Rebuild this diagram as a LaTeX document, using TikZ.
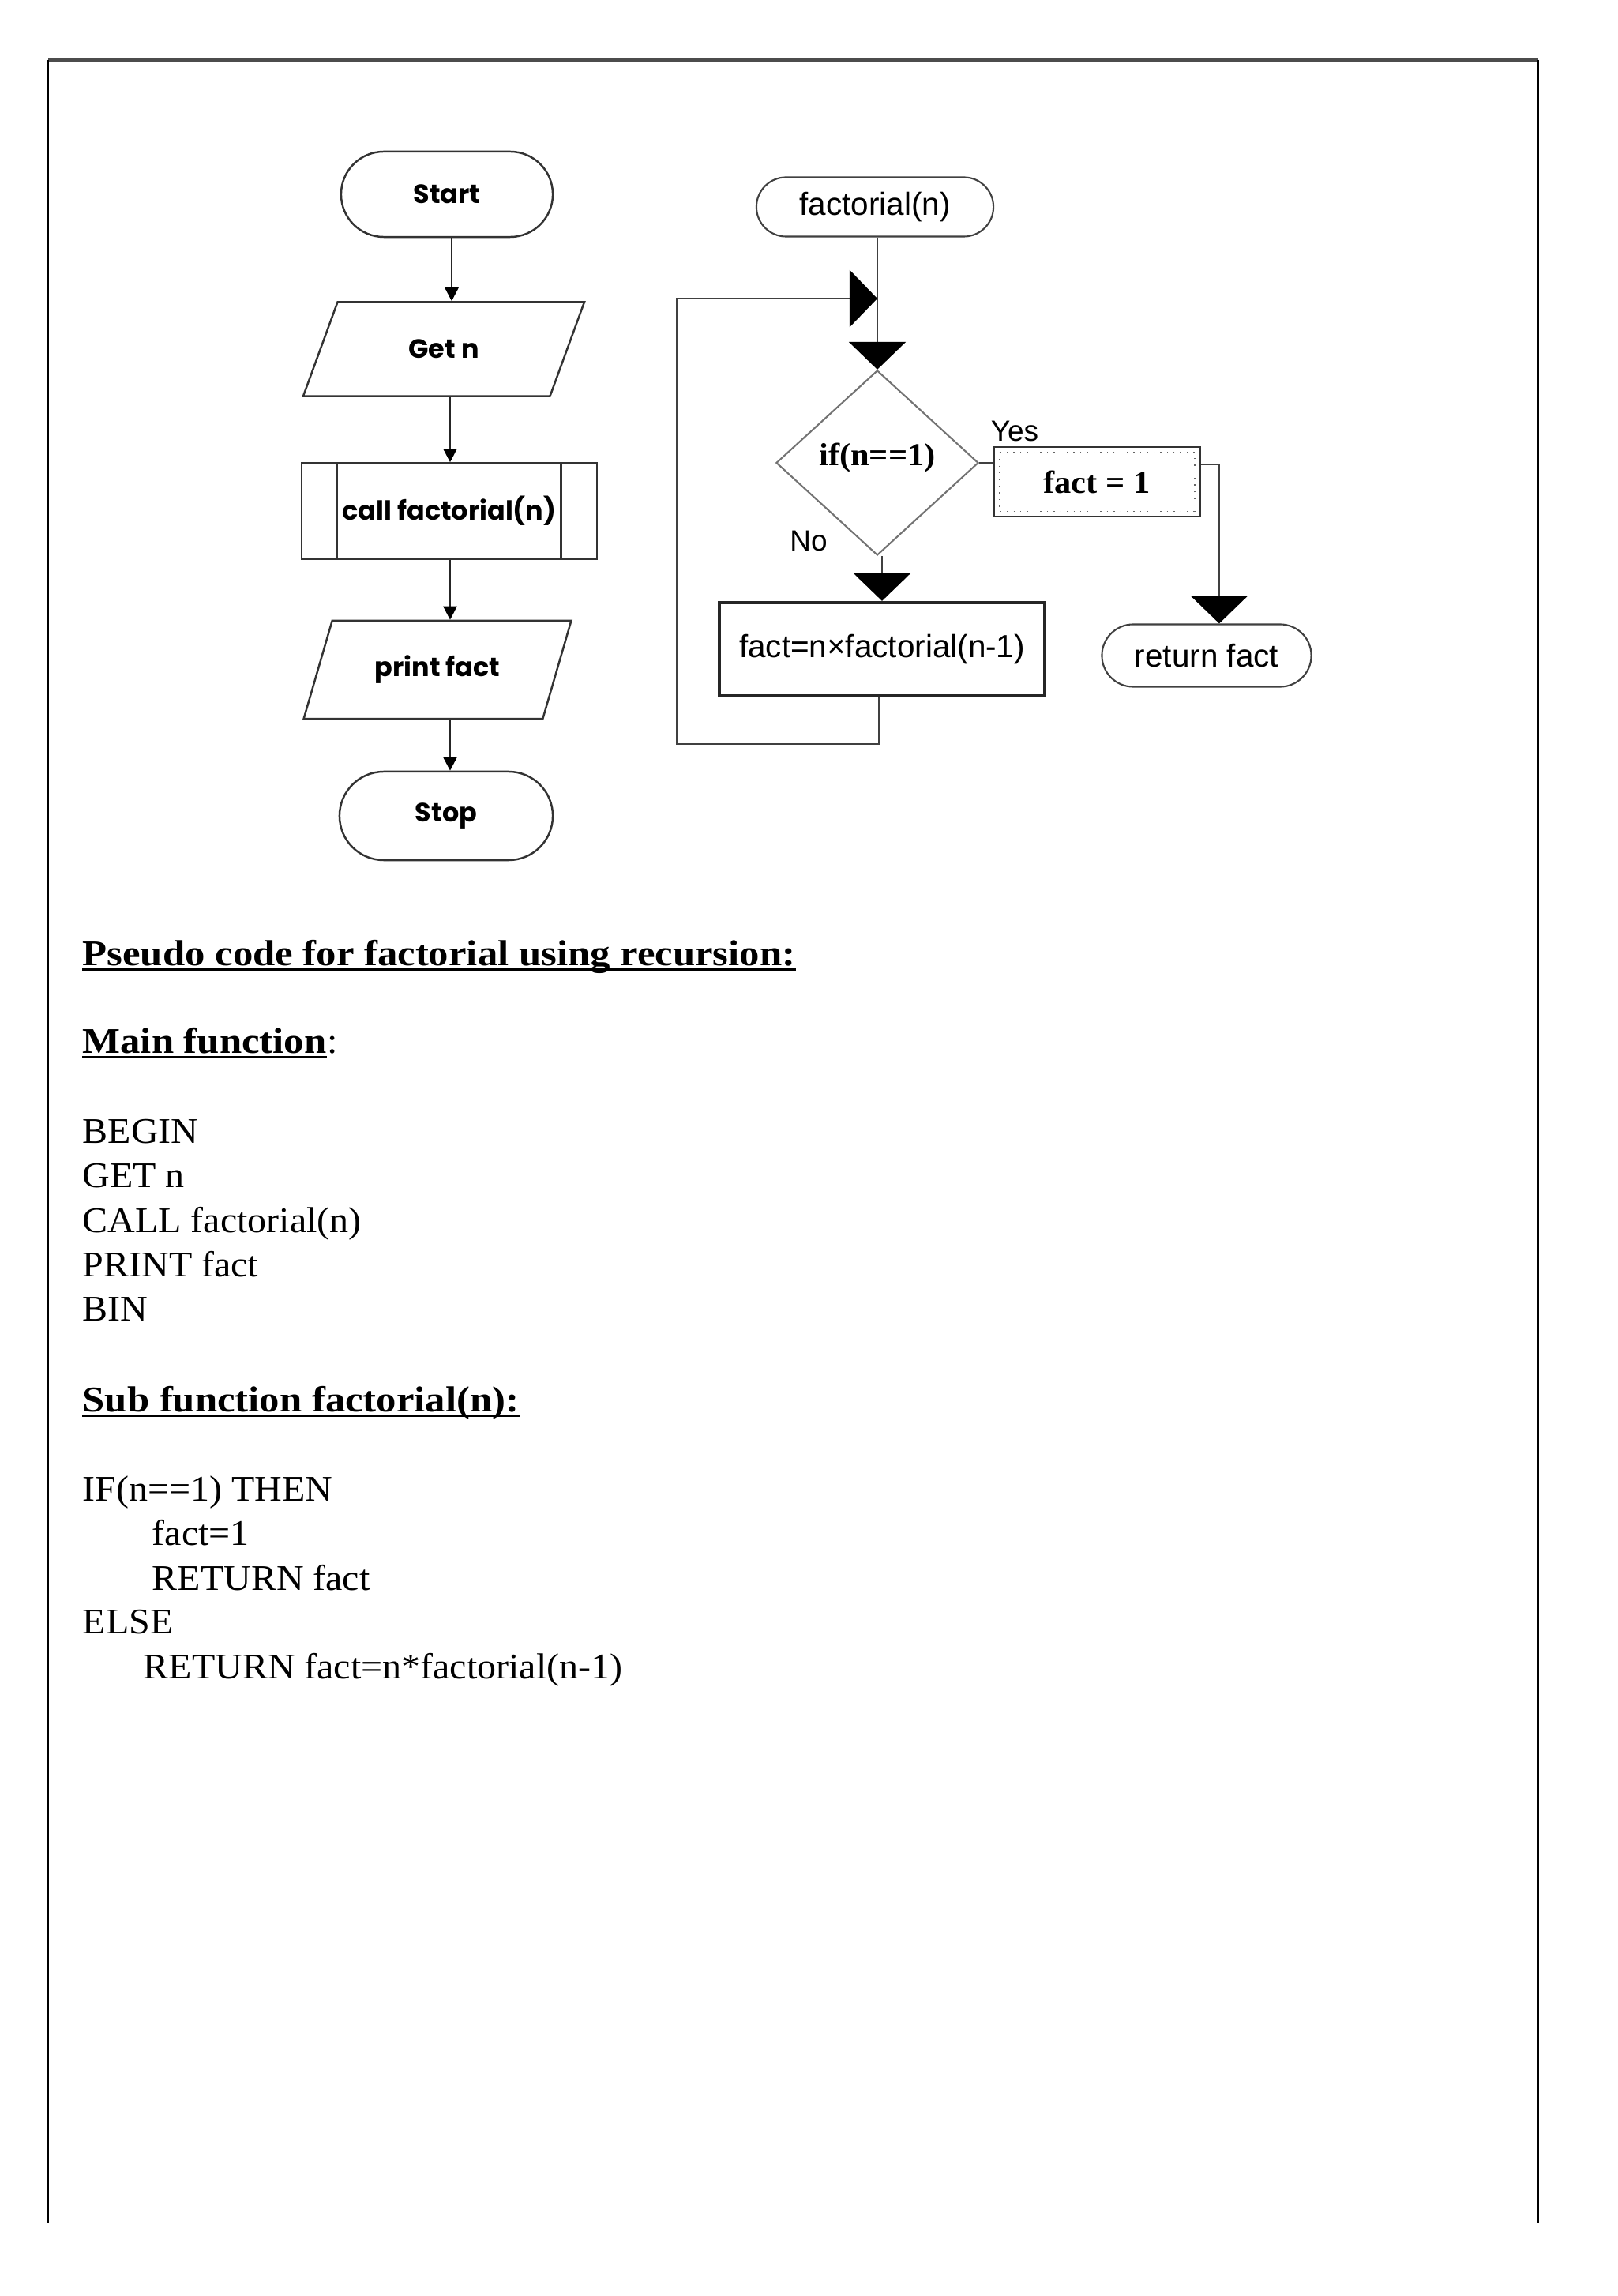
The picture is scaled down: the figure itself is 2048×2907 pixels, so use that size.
\documentclass[tikz,border=0pt]{standalone}
\usepackage{fontspec}
\setmainfont{Liberation Serif}[FakeStretch=1.05]
\newfontfamily\headfont{Liberation Serif}[FakeStretch=1.11]
\newfontfamily\arialfont{Liberation Sans}
\newfontfamily\comicfont{Poppins}
\usetikzlibrary{arrows.meta,shapes.geometric,shapes.misc,calc}

\tikzset{
  every node/.style={inner sep=0pt},
  lterm/.style={rounded rectangle, draw=black!80, line width=0.7pt, minimum width=2.68cm, minimum height=1.08cm, font=\comicfont\bfseries\fontsize{9.5}{11}\selectfont},
  lio/.style={trapezium, trapezium left angle=59, trapezium right angle=121, trapezium stretches=true, draw=black!80, line width=0.7pt, minimum height=1.19cm, font=\comicfont\bfseries\fontsize{9.5}{11}\selectfont},
  lproc/.style={rectangle, draw=black!80, line width=0.7pt, minimum width=3.74cm, minimum height=1.21cm, font=\comicfont\bfseries\fontsize{9.5}{11}\selectfont},
  larr/.style={-{Triangle[length=0.17cm,width=0.17cm,color=black]}, line width=0.7pt, black!85},
  rterm/.style={rounded rectangle, draw=black!75, line width=0.6pt, minimum height=0.77cm, font=\arialfont\fontsize{11.5}{13}\selectfont},
  rline/.style={line width=0.6pt, black!75},
  bigtip/.style={-{Triangle[length=0.35cm,width=0.72cm,color=black]}, line width=0.6pt, black!75},
  code/.style={anchor=base west, font=\fontsize{13}{16}\selectfont},
  codehead/.style={code, font=\headfont\bfseries\fontsize{13}{16}\selectfont},
  uline/.style={line width=0.85pt}
}

\begin{document}
\begin{tikzpicture}[x=0.01cm,y=-0.01cm]
  \useasboundingbox (0,0) rectangle (2048,2907);

  % Page frame
  \draw[line width=1.2pt, black!70] (61,76) -- (1948,76);
  \draw[line width=0.5pt] (61,76) -- (61,2815);
  \draw[line width=0.5pt] (1948,76) -- (1948,2815);

  % Main flowchart
  \node[lterm] (start) at (566,246) {Start};
  \node[lio, minimum width=3.57cm] (getn) at (562,442) {Get n};
  \node[lproc] (call) at (569,647) {call factorial(n)};
  \draw[line width=0.7pt, black!80] ([xshift=0.46cm]call.north west) -- ([xshift=0.46cm]call.south west);
  \draw[line width=0.7pt, black!80] ([xshift=-0.47cm]call.north east) -- ([xshift=-0.47cm]call.south east);
  \node[lio, minimum width=3.40cm, minimum height=1.24cm] (print) at (554,848) {print fact};
  \node[lterm, minimum width=2.70cm, minimum height=1.12cm] (stop) at (565,1033) {Stop};

  \draw[larr] (start.south -| 572,0) -- (getn.north -| 572,0);
  \draw[larr] (getn.south -| 570,0) -- (call.north -| 570,0);
  \draw[larr] (call.south -| 570,0) -- (print.north -| 570,0);
  \draw[larr] (print.south -| 570,0) -- (stop.north -| 570,0);

  % Recursive function flowchart
  \node[rterm, minimum width=3.00cm, minimum height=0.75cm] (fn) at (1108,262) {factorial(n)};
  \node[diamond, draw=black!55, line width=0.6pt, minimum width=2.56cm, minimum height=2.34cm,
        font=\bfseries\fontsize{11.5}{13}\selectfont] (test) at (1111,586) {\raisebox{0.55em}{if(n==1)}};
  \node[rectangle, draw=black!80, line width=0.7pt, minimum width=2.61cm, minimum height=0.88cm,
        font=\bfseries\fontsize{11.5}{13}\selectfont] (base) at (1389,610) {fact = 1};
  \draw[black!60, line width=0.4pt, dotted] ([xshift=0.08cm,yshift=-0.08cm]base.north west) rectangle ([xshift=-0.08cm,yshift=0.08cm]base.south east);
  \node[rectangle, draw=black!85, line width=1.2pt, minimum width=4.12cm, minimum height=1.18cm,
        font=\arialfont\fontsize{11.5}{13}\selectfont] (recur) at (1117,822) {fact=n×factorial(n-1)};
  \node[rterm, minimum width=2.65cm, minimum height=0.79cm] (ret) at (1528,830) {return fact};

  % Branch labels
  \node[font=\arialfont\fontsize{10.5}{12}\selectfont] (yes) at (1285,546) {Yes};
  \node[font=\arialfont\fontsize{10.5}{12}\selectfont] (no) at (1024,685) {No};

  % Connectors
  \coordinate (join) at (1111,378);
  \coordinate (loop) at (857,942);
  \coordinate (turn) at (1544,588);
  \draw[bigtip] (fn.south -| join) -- (test.north);
  \draw[bigtip] (recur.south -| 1113,0) |- (loop) |- (join);
  \draw[bigtip] (test.south -| 1117,0) -- (recur.north -| 1117,0);
  \draw[rline] (test.east) -- (test.east -| base.west);
  \draw[bigtip] (base.east |- turn) -- (turn) -- (turn |- ret.north);

  % Pseudo code
  \node[codehead] (title) at (104,1222) {Pseudo code for factorial using recursion:};
  \draw[uline] ([yshift=-1.5pt]title.base west) -- ([yshift=-1.5pt]title.base east);

  \node[codehead] (mainfn) at (104,1333) {Main function};
  \node[code] (colon) at (mainfn.base east) {:};
  \draw[uline] ([yshift=-1.5pt]mainfn.base west) -- ([yshift=-1.5pt]mainfn.base east);

  \node[code] (m1) at (104,1447) {BEGIN};
  \node[code] (m2) at (104,1503) {GET n};
  \node[code] (m3) at (104,1560) {CALL factorial(n)};
  \node[code] (m4) at (104,1616) {PRINT fact};
  \node[code] (m5) at (104,1672) {BIN};

  \node[codehead] (subfn) at (104,1787) {Sub function factorial(n):};
  \draw[uline] ([yshift=-1.5pt]subfn.base west) -- ([yshift=-1.5pt]subfn.base east);

  \node[code] (s1) at (104,1900) {IF(n==1) THEN};
  \node[code] (s2) at (192,1956) {fact=1};
  \node[code] (s3) at (192,2013) {RETURN fact};
  \node[code] (s4) at (104,2068) {ELSE};
  \node[code] (s5) at (181,2125) {RETURN fact=n*factorial(n-1)};
\end{tikzpicture}
\end{document}
